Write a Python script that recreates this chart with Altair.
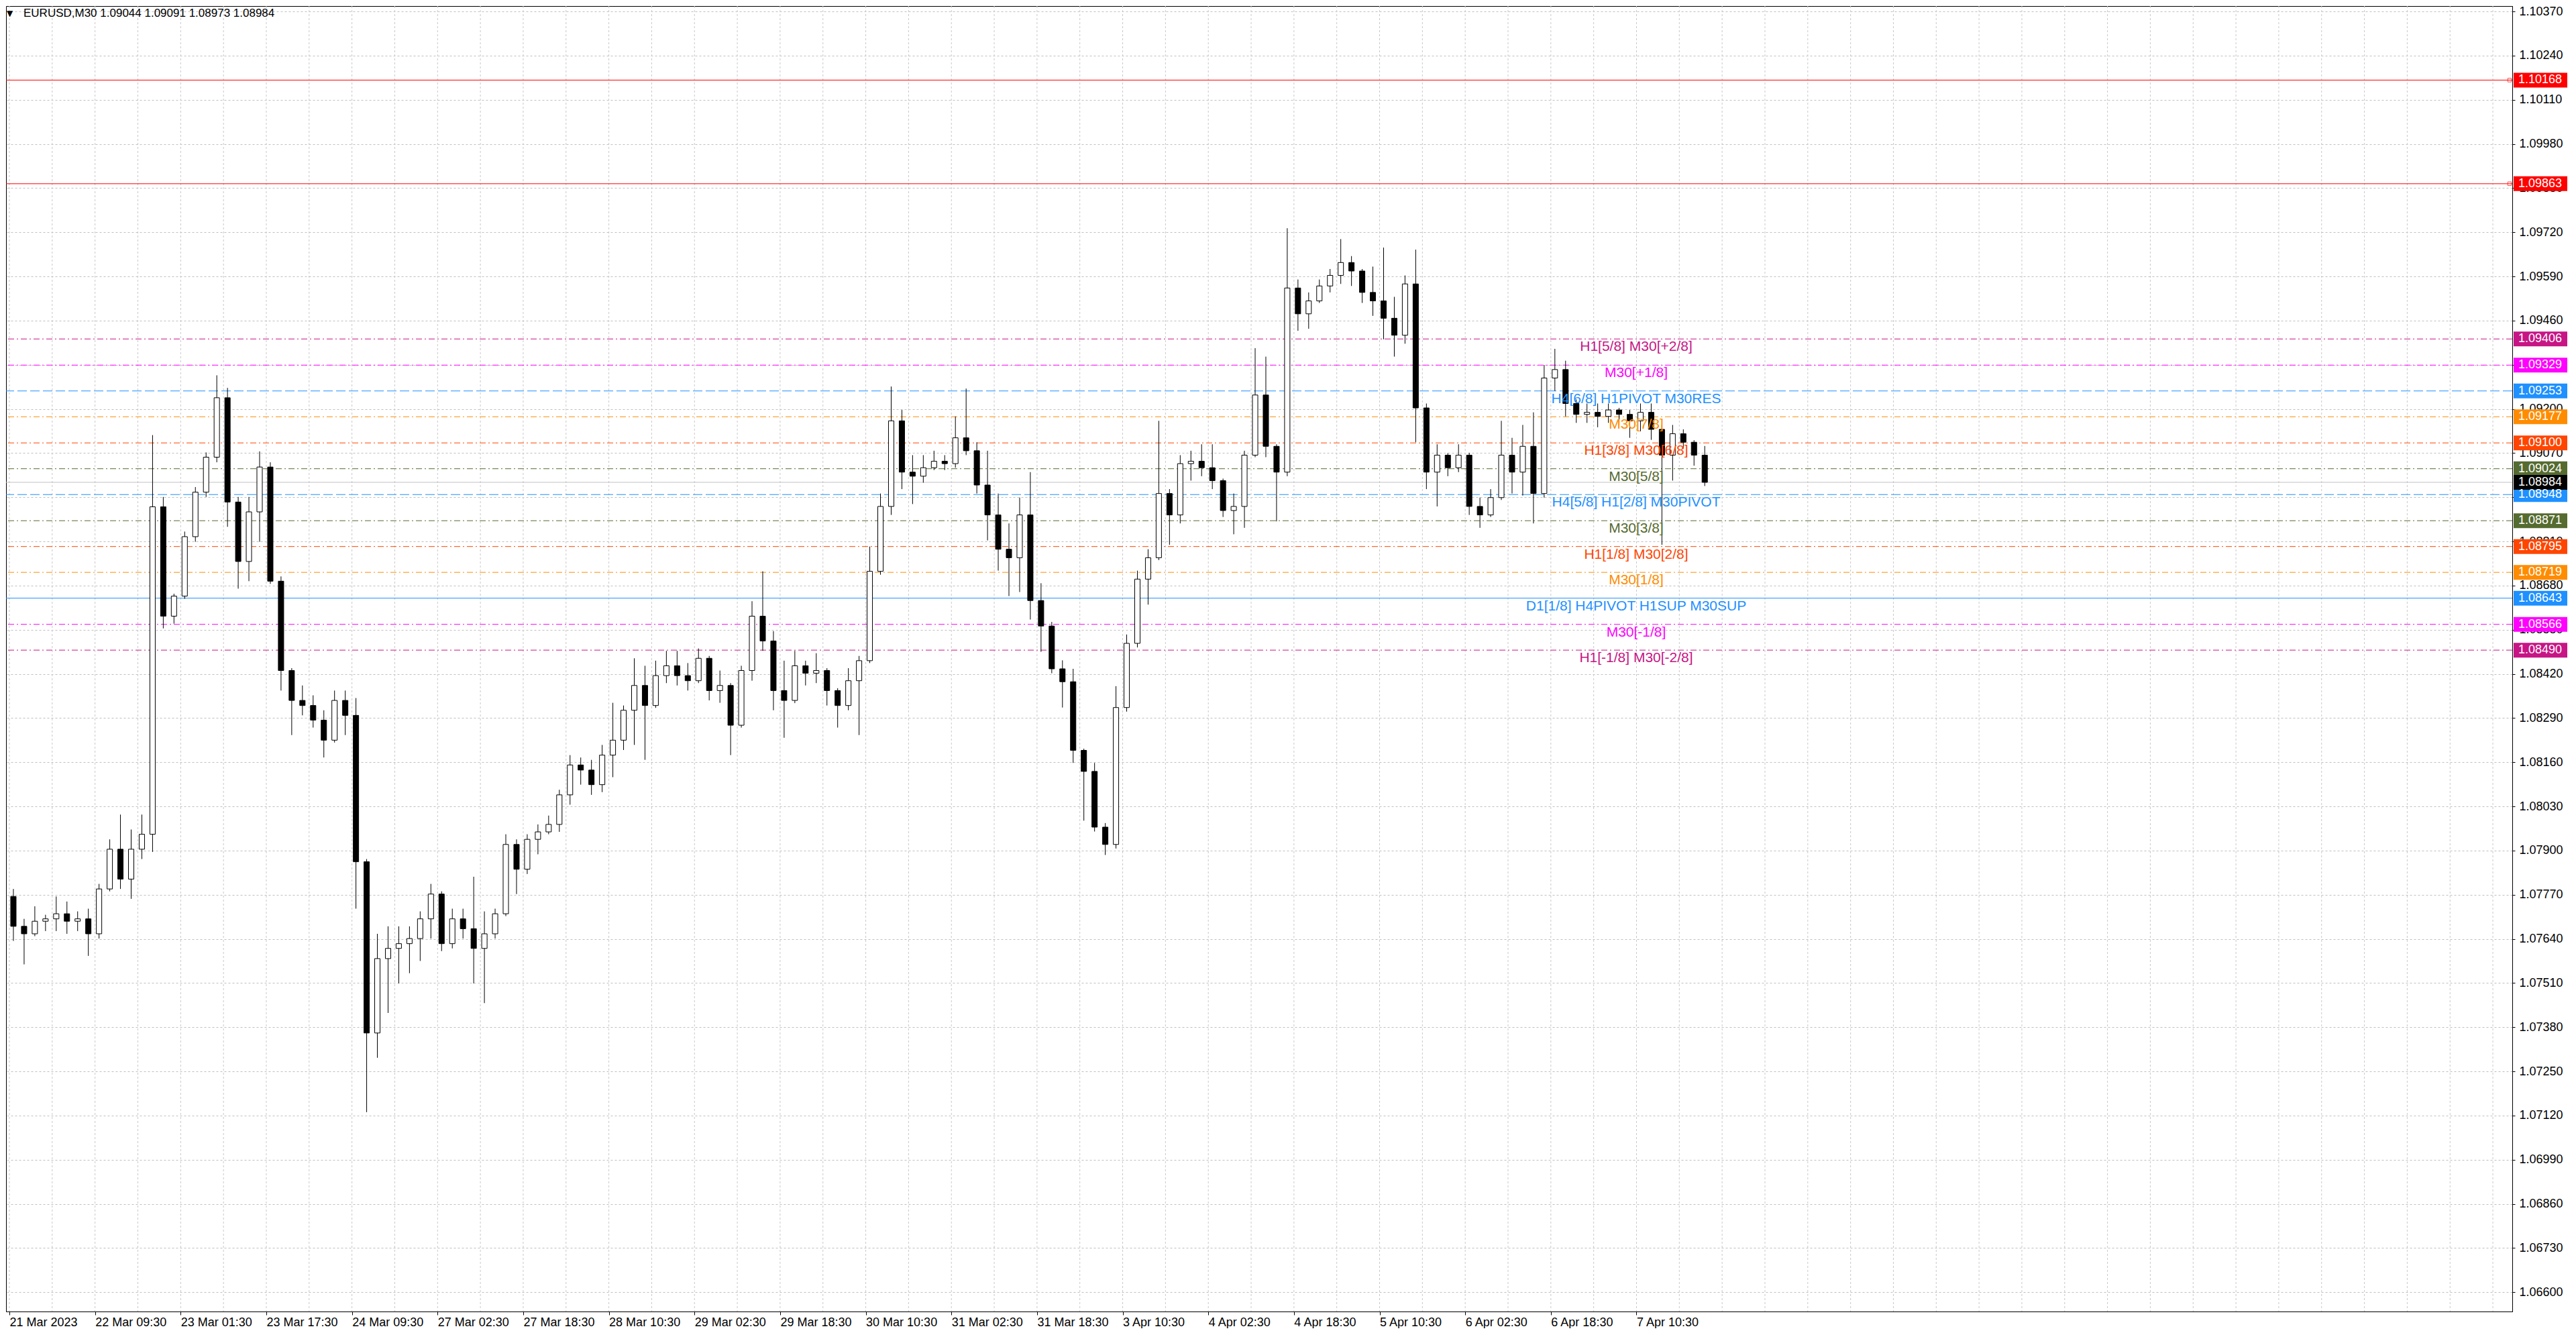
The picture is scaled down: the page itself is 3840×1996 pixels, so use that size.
import altair as alt
import pandas as pd

# ---------------- data (2-hour candles) ----------------
open_p = [1.07765,1.07677,1.07655,1.07692,1.07699,1.07714,1.07692,1.07699,1.07655,1.07787,
          1.07904,1.07816,1.07904,1.07948,1.08912,1.08590,1.08649,1.08824,1.08955,1.09058,
          1.09233,1.08926,1.08751,1.08897,1.09029,1.08693,1.08430,1.08342,1.08327,1.08284,
          1.08225,1.08342,1.08298,1.07867,1.07363,1.07582,1.07612,1.07626,1.07641,1.07699,
          1.07772,1.07626,1.07699,1.07670,1.07612,1.07655,1.07714,1.07918,1.07845,1.07933,
          1.07955,1.07977,1.08064,1.08152,1.08137,1.08094,1.08181,1.08225,1.08313,1.08386,
          1.08327,1.08415,1.08444,1.08415,1.08400,1.08466,1.08371,1.08386,1.08269,1.08430,
          1.08590,1.08517,1.08371,1.08342,1.08444,1.08422,1.08430,1.08371,1.08327,1.08400,
          1.08459,1.08722,1.08913,1.09165,1.09014,1.09002,1.09027,1.09046,1.09039,1.09115,
          1.09077,1.08976,1.08888,1.08787,1.08762,1.08888,1.08636,1.08561,1.08435,1.08397,
          1.08195,1.08133,1.07969,1.07918,1.08321,1.08510,1.08699,1.08762,1.08951,1.08888,
          1.09039,1.09046,1.09027,1.08989,1.08901,1.08913,1.09064,1.09241,1.09090,1.09014,
          1.09556,1.09480,1.09518,1.09562,1.09593,1.09631,1.09606,1.09543,1.09518,1.09467,
          1.09417,1.09568,1.09203,1.09014,1.09064,1.09027,1.09064,1.08913,1.08888,1.08939,
          1.09064,1.09014,1.09090,1.08951,1.09291,1.09316,1.09216,1.09184,1.09190,1.09178,
          1.09197,1.09184,1.09165,1.09190,1.09140,1.09064,1.09127,1.09102,1.09064]
high_p = [1.07787,1.07699,1.07736,1.07711,1.07765,1.07750,1.07721,1.07729,1.07802,1.07933,
          1.08006,1.07962,1.08006,1.09123,1.08941,1.08656,1.08839,1.08970,1.09072,1.09299,
          1.09262,1.08941,1.08941,1.09075,1.09043,1.08707,1.08437,1.08386,1.08357,1.08313,
          1.08371,1.08371,1.08349,1.07875,1.07655,1.07677,1.07677,1.07677,1.07721,1.07802,
          1.07780,1.07729,1.07729,1.07823,1.07721,1.07729,1.07948,1.07933,1.07948,1.07977,
          1.08003,1.08079,1.08181,1.08174,1.08167,1.08211,1.08335,1.08327,1.08466,1.08444,
          1.08459,1.08488,1.08488,1.08452,1.08495,1.08473,1.08430,1.08393,1.08444,1.08634,
          1.08722,1.08546,1.08459,1.08488,1.08459,1.08481,1.08437,1.08378,1.08437,1.08473,
          1.08795,1.08951,1.09266,1.09197,1.09064,1.09064,1.09077,1.09064,1.09178,1.09260,
          1.09102,1.09077,1.08951,1.08863,1.08939,1.09014,1.08687,1.08573,1.08460,1.08435,
          1.08200,1.08158,1.07981,1.08384,1.08536,1.08724,1.08787,1.09165,1.08964,1.09064,
          1.09077,1.09096,1.09096,1.08995,1.08951,1.09077,1.09379,1.09354,1.09096,1.09732,
          1.09581,1.09543,1.09581,1.09612,1.09700,1.09650,1.09612,1.09619,1.09675,1.09530,
          1.09593,1.09669,1.09216,1.09096,1.09070,1.09096,1.09071,1.08939,1.08964,1.09165,
          1.09115,1.09153,1.09190,1.09329,1.09377,1.09342,1.09228,1.09216,1.09216,1.09216,
          1.09203,1.09197,1.09216,1.09216,1.09153,1.09153,1.09140,1.09108,1.09091]
low_p = [1.07634,1.07565,1.07648,1.07663,1.07663,1.07655,1.07663,1.07590,1.07641,1.07780,
         1.07787,1.07758,1.07875,1.07896,1.08554,1.08568,1.08641,1.08809,1.08941,1.09043,
         1.08853,1.08671,1.08693,1.08809,1.08685,1.08371,1.08240,1.08298,1.08262,1.08174,
         1.08218,1.08240,1.07729,1.07130,1.07290,1.07422,1.07509,1.07539,1.07575,1.07641,
         1.07604,1.07612,1.07641,1.07509,1.07451,1.07641,1.07707,1.07772,1.07831,1.07889,
         1.07948,1.07955,1.08035,1.08094,1.08064,1.08072,1.08116,1.08196,1.08211,1.08167,
         1.08320,1.08393,1.08386,1.08371,1.08393,1.08342,1.08335,1.08181,1.08262,1.08400,
         1.08488,1.08313,1.08232,1.08334,1.08386,1.08393,1.08327,1.08262,1.08313,1.08240,
         1.08452,1.08712,1.08888,1.08964,1.08920,1.08983,1.09020,1.09020,1.09027,1.09064,
         1.08951,1.08813,1.08724,1.08649,1.08661,1.08580,1.08485,1.08422,1.08321,1.08158,
         1.07988,1.07956,1.07887,1.07906,1.08309,1.08498,1.08624,1.08755,1.08800,1.08863,
         1.08989,1.09002,1.08964,1.08882,1.08831,1.08850,1.09058,1.09058,1.08869,1.09002,
         1.09430,1.09436,1.09512,1.09543,1.09568,1.09562,1.09512,1.09474,1.09405,1.09354,
         1.09392,1.09102,1.08964,1.08913,1.09002,1.09014,1.08888,1.08850,1.08882,1.08932,
         1.08951,1.08945,1.08863,1.08939,1.09253,1.09178,1.09159,1.09159,1.09146,1.09159,
         1.09153,1.09115,1.09134,1.09109,1.08800,1.08989,1.09083,1.09033,1.08973]
close_p = [1.07677,1.07655,1.07692,1.07699,1.07714,1.07692,1.07699,1.07655,1.07787,1.07904,
           1.07816,1.07904,1.07948,1.08912,1.08590,1.08649,1.08824,1.08955,1.09058,1.09233,
           1.08926,1.08751,1.08897,1.09029,1.08693,1.08430,1.08342,1.08327,1.08284,1.08225,
           1.08342,1.08298,1.07867,1.07363,1.07582,1.07612,1.07626,1.07641,1.07699,1.07772,
           1.07626,1.07699,1.07670,1.07612,1.07655,1.07714,1.07918,1.07845,1.07933,1.07955,
           1.07977,1.08064,1.08152,1.08137,1.08094,1.08181,1.08225,1.08313,1.08386,1.08327,
           1.08415,1.08444,1.08415,1.08400,1.08466,1.08371,1.08386,1.08269,1.08430,1.08590,
           1.08517,1.08371,1.08342,1.08444,1.08422,1.08430,1.08371,1.08327,1.08400,1.08459,
           1.08722,1.08913,1.09165,1.09014,1.09002,1.09027,1.09046,1.09039,1.09115,1.09077,
           1.08976,1.08888,1.08787,1.08762,1.08888,1.08636,1.08561,1.08435,1.08397,1.08195,
           1.08133,1.07969,1.07918,1.08321,1.08510,1.08699,1.08762,1.08951,1.08888,1.09039,
           1.09046,1.09027,1.08989,1.08901,1.08913,1.09064,1.09241,1.09090,1.09014,1.09556,
           1.09480,1.09518,1.09562,1.09593,1.09631,1.09606,1.09543,1.09518,1.09467,1.09417,
           1.09568,1.09203,1.09014,1.09064,1.09027,1.09064,1.08913,1.08888,1.08939,1.09064,
           1.09014,1.09090,1.08951,1.09291,1.09316,1.09216,1.09184,1.09190,1.09178,1.09197,
           1.09184,1.09165,1.09190,1.09140,1.09064,1.09127,1.09102,1.09064,1.08984]

time_labels = ["21 Mar 2023", "22 Mar 09:30", "23 Mar 01:30", "23 Mar 17:30", "24 Mar 09:30",
               "27 Mar 02:30", "27 Mar 18:30", "28 Mar 10:30", "29 Mar 02:30", "29 Mar 18:30",
               "30 Mar 10:30", "31 Mar 02:30", "31 Mar 18:30", "3 Apr 10:30", "4 Apr 02:30",
               "4 Apr 18:30", "5 Apr 10:30", "6 Apr 02:30", "6 Apr 18:30", "7 Apr 10:30"]

price_ticks = [1.06600, 1.06730, 1.06860, 1.06990, 1.07120, 1.07250, 1.07380, 1.07510,
               1.07640, 1.07770, 1.07900, 1.08030, 1.08160, 1.08290, 1.08420, 1.08550,
               1.08680, 1.08810, 1.08940, 1.09070, 1.09200, 1.09330, 1.09460, 1.09590,
               1.09720, 1.09850, 1.09980, 1.10110, 1.10240, 1.10370]

level_prices = [1.10168, 1.09863, 1.09406, 1.09329, 1.09253, 1.09177, 1.09100, 1.09024,
                1.08948, 1.08871, 1.08795, 1.08719, 1.08643, 1.08566, 1.08490]
level_names = ["", "", "H1[5/8] M30[+2/8]", "M30[+1/8]", "H4[6/8] H1PIVOT M30RES", "M30[7/8]",
               "H1[3/8] M30[6/8]", "M30[5/8]", "H4[5/8] H1[2/8] M30PIVOT", "M30[3/8]",
               "H1[1/8] M30[2/8]", "M30[1/8]", "D1[1/8] H4PIVOT H1SUP M30SUP", "M30[-1/8]",
               "H1[-1/8] M30[-2/8]"]
level_colors = ["#FF0000", "#FF0000", "#C71585", "#FF00FF", "#1E90FF", "#FF8C00", "#FF4500",
                "#556B2F", "#1E90FF", "#556B2F", "#FF4500", "#FF8C00", "#1E90FF", "#FF00FF",
                "#C71585"]
level_styles = ["solid", "solid", "dashdot", "dashdot", "dash", "dashdot", "dashdot", "dashdot",
                "dash", "dashdot", "dashdot", "dashdot", "solid", "dashdot", "dashdot"]
current_price = 1.08984
symbol = "EURUSD,M30"
header_ohlc = [1.09044, 1.09091, 1.08973, 1.08984]

# ---------------- layout ----------------
W = 3736
H = 1946
PX_PER_PRICE = 50640.0
Y_TOP = 1.10386
Y_BOT = Y_TOP - H / PX_PER_PRICE
X_MAX = W / 4.0
FONT = "Liberation Sans"

yscale = alt.Scale(domain=[Y_BOT, Y_TOP], zero=False, nice=False)
xscale = alt.Scale(domain=[0, X_MAX], zero=False, nice=False)

label_expr = "[" + ",".join("'" + t + "'" for t in time_labels) + "][round(datum.value/32)]"

xax = alt.Axis(
    values=list(range(0, 609, 32)), labelExpr=label_expr, labelAlign="left",
    labelFont=FONT, labelFontSize=18, labelColor="black", labelPadding=2,
    labelOverlap=False, labelFlush=False, tickSize=5, tickColor="black",
    domainColor="black", grid=False, title=None)
yax = alt.Axis(
    orient="right", values=price_ticks, format=".5f", labelFont=FONT,
    labelFontSize=18, labelColor="black", labelPadding=6, tickSize=4,
    tickColor="black", domainColor="black", grid=True, gridColor="#c0c0c0",
    gridDash=[3, 3], labelOverlap=False, labelFlush=False, title=None)


def X(field):
    return alt.X(field, scale=xscale, axis=xax, title=None)


def Y(field):
    return alt.Y(field, scale=yscale, axis=yax, title=None)


n = len(open_p)
candles = pd.DataFrame({
    "i": [4 * k + 1.5 for k in range(n)],
    "o": open_p, "h": high_p, "l": low_p, "c": close_p,
})

layers = []

# base layer carrying both axes
layers.append(alt.Chart(pd.DataFrame({"i": [0.0], "p": [current_price]})).mark_point(
    opacity=0).encode(x=X("i:Q"), y=Y("p:Q")))

# vertical grid (every 16 bars)
layers.append(alt.Chart(pd.DataFrame({"i": list(range(0, int(X_MAX) + 1, 16))})).mark_rule(
    color="#c8c8c8", strokeDash=[3, 3], strokeWidth=1).encode(x=X("i:Q")))

# current price line
layers.append(alt.Chart(pd.DataFrame({"p": [current_price]})).mark_rule(
    color="#c0c0c0", strokeWidth=1).encode(y=Y("p:Q")))

# level lines
dash_map = {"dash": [14, 5], "dashdot": [9, 4, 2, 4]}
for p, c, s in zip(level_prices, level_colors, level_styles):
    mk = dict(color=c, strokeWidth=1)
    if s != "solid":
        mk["strokeDash"] = dash_map[s]
    layers.append(alt.Chart(pd.DataFrame({"p": [p]})).mark_rule(**mk).encode(y=Y("p:Q")))

# red line end markers
layers.append(alt.Chart(pd.DataFrame({"p": level_prices[:2]})).mark_point(
    shape="square", filled=False, color="#FF0000", size=30, strokeWidth=1).encode(
    x=alt.value(W - 4), y=Y("p:Q")))

# candles
layers.append(alt.Chart(candles).mark_rule(color="black", strokeWidth=1).encode(
    x=X("i:Q"), y=Y("l:Q"), y2="h:Q"))
layers.append(alt.Chart(candles).mark_bar(width=8, stroke="black", strokeWidth=1).encode(
    x=X("i:Q"), y=Y("o:Q"), y2="c:Q",
    fill=alt.condition("datum.c >= datum.o", alt.value("white"), alt.value("black"))))

# level text labels
lab_df = pd.DataFrame({"p": level_prices, "name": level_names, "col": level_colors})
lab_df = lab_df[lab_df["name"] != ""]
layers.append(alt.Chart(lab_df).mark_text(
    align="center", baseline="middle", font=FONT, fontSize=21, dy=12).encode(
    x=alt.value(2430), y=Y("p:Q"), text="name:N", color=alt.Color("col:N", scale=None)))

# right-side price boxes
box_prices = level_prices + [current_price]
box_colors = level_colors + ["#000000"]
half = 11.0 / PX_PER_PRICE
box_df = pd.DataFrame({
    "p": box_prices, "col": box_colors,
    "top": [p + half for p in box_prices], "bot": [p - half for p in box_prices],
    "txt": [f"{p:.5f}" for p in box_prices],
})
layers.append(alt.Chart(box_df).mark_rect().encode(
    x=alt.value(W + 2), x2=alt.value(W + 82),
    y=Y("top:Q"), y2="bot:Q", fill=alt.Color("col:N", scale=None)))
layers.append(alt.Chart(box_df).mark_text(
    align="left", baseline="middle", font=FONT, fontSize=18, color="white").encode(
    x=alt.value(W + 9), y=Y("p:Q"), text="txt:N"))

# header
header = f"{symbol}  " + " ".join(f"{v:.5f}" for v in header_ohlc)
layers.append(alt.Chart(pd.DataFrame({"t": [header]})).mark_text(
    align="left", baseline="middle", font=FONT, fontSize=17, color="black").encode(
    x=alt.value(26), y=alt.value(11), text="t:N"))
layers.append(alt.Chart(pd.DataFrame({"t": ["\u25BC"]})).mark_text(
    align="left", baseline="middle", font="DejaVu Sans", fontSize=12, color="black").encode(
    x=alt.value(1), y=alt.value(11), text="t:N"))

chart = alt.layer(*layers).properties(
    width=W, height=H, padding=0, background="white"
).configure_view(stroke="black", strokeWidth=1)

chart.save("out.html", embed_options={"renderer": "svg", "actions": False})
